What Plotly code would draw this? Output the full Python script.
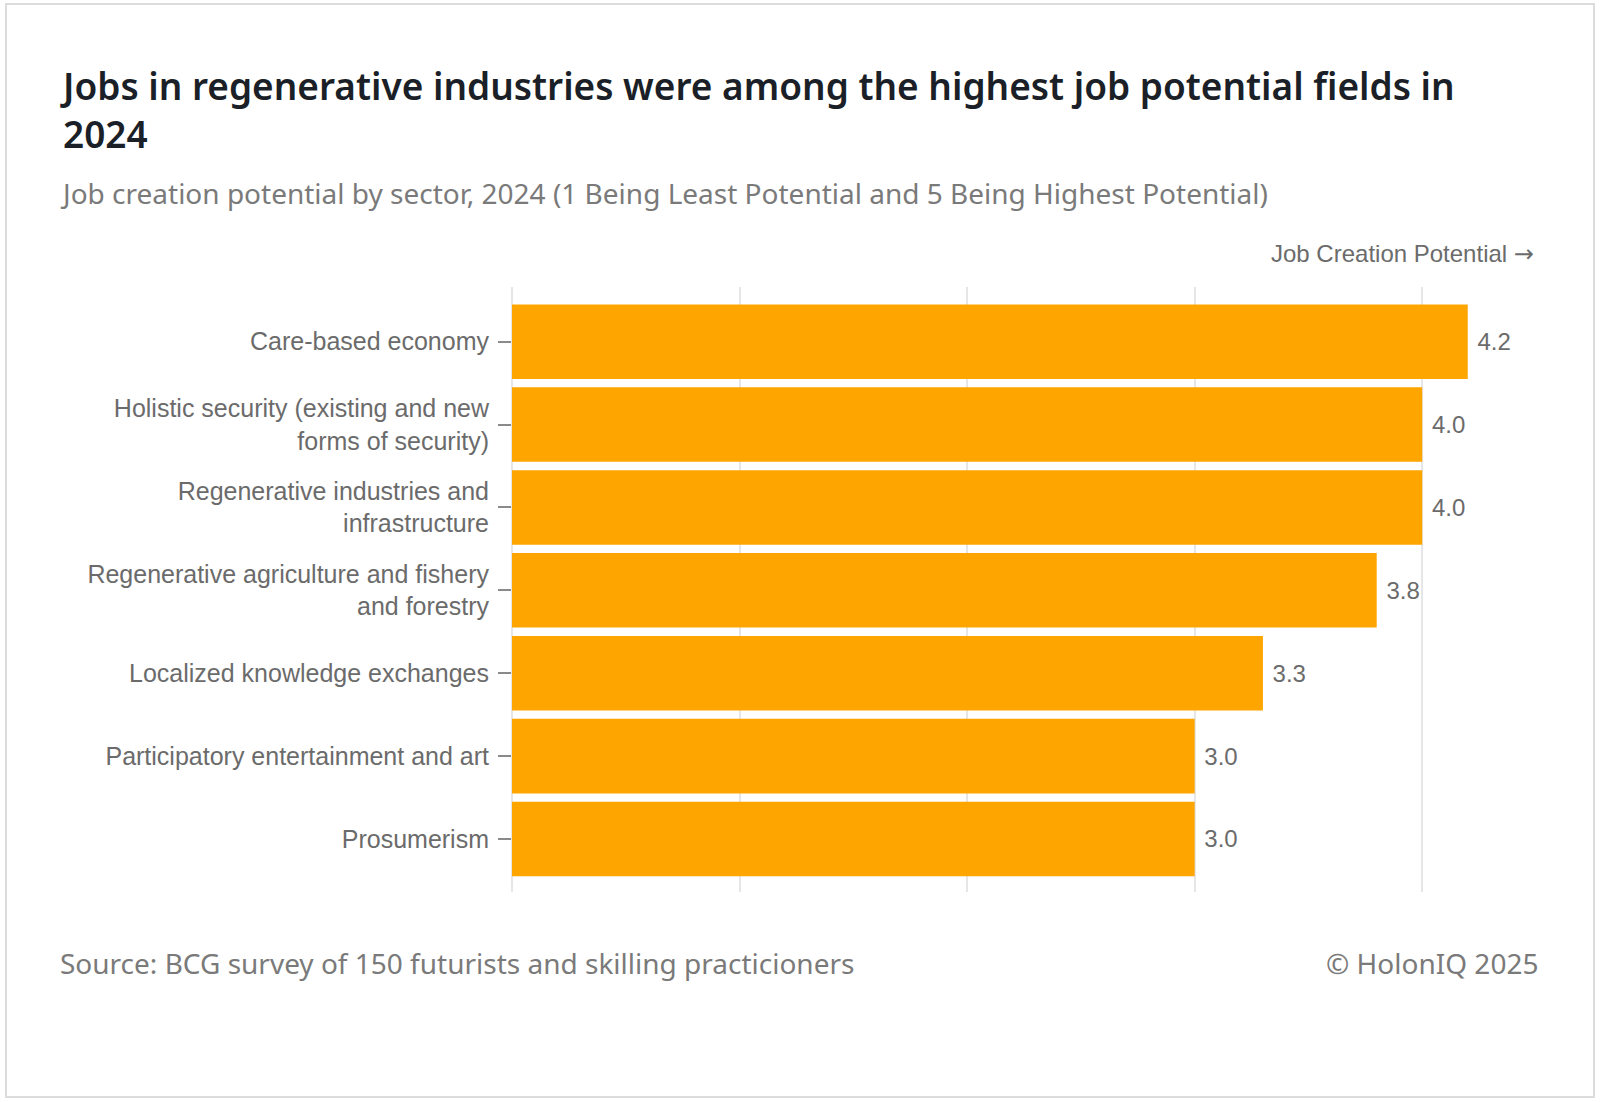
import plotly.graph_objects as go

# ---- data ----
sectors = [
    "Care-based economy",
    "Holistic security (existing and new<br>forms of security)",
    "Regenerative industries and<br>infrastructure",
    "Regenerative agriculture and fishery<br>and forestry",
    "Localized knowledge exchanges",
    "Participatory entertainment and art",
    "Prosumerism",
]
potential = [4.2, 4.0, 4.0, 3.8, 3.3, 3.0, 3.0]

title_text = ("Jobs in regenerative industries were among the highest job potential fields in<br>2024")
subtitle_text = ("Job creation potential by sector, 2024 (1 Being Least Potential and 5 Being Highest Potential)")
source_text = "Source: BCG survey of 150 futurists and skilling practicioners"
credit_text = "© HolonIQ 2025"
axis_note = "Job Creation Potential <span style=\"font-family:'DejaVu Sans'\">→</span>"

W, H = 1600, 1102
L, R, T, B = 512, 1536, 287, 892  # plot area in pixels


def px(x):
    return (x - L) / (R - L)


def py(y):
    return (B - y) / (B - T)


fig = go.Figure(
    go.Bar(
        x=potential,
        y=sectors,
        orientation="h",
        marker=dict(color="#FFA500", line=dict(width=0)),
        text=potential,
        texttemplate=" %{x:.1f}",
        textposition="outside",
        textfont=dict(family="Liberation Sans, Arial", size=24, color="#6b6b6b"),
        cliponaxis=False,
        hoverinfo="skip",
    )
)

fig.update_layout(
    width=W,
    height=H,
    paper_bgcolor="white",
    plot_bgcolor="white",
    margin=dict(l=L, r=W - R, t=T, b=H - B, pad=0),
    bargap=0.1,
    showlegend=False,
    font=dict(family="Liberation Sans, Arial", color="#6b6b6b"),
)

fig.update_xaxes(
    range=[0, 4.5],
    showticklabels=False,
    showgrid=True,
    gridcolor="#e6e6e6",
    gridwidth=2,
    zeroline=True,
    zerolinecolor="#e6e6e6",
    zerolinewidth=2,
    dtick=1,
    showline=False,
    fixedrange=True,
)

fig.update_yaxes(
    categoryorder="array",
    categoryarray=sectors,
    range=[6.64, -0.66],
    ticks="outside",
    ticklen=13,
    tickwidth=2,
    tickcolor="#8a8a8a",
    tickfont=dict(family="Liberation Sans, Arial", size=25, color="#6b6b6b"),
    ticklabelstandoff=4,
    showgrid=False,
    showline=False,
    fixedrange=True,
)

annotations = [
    dict(text=title_text, x=px(58), y=py(109), xanchor="left", yanchor="middle",
         align="left",
         font=dict(family="Noto Sans", size=37, color="#1b1f27", weight=600)),
    dict(text=subtitle_text, x=px(58), y=py(193), xanchor="left", yanchor="middle",
         font=dict(family="Noto Sans", size=28, color="#7a7a7a")),
    dict(text=axis_note, x=px(1536), y=py(254), xanchor="right", yanchor="middle",
         font=dict(family="Liberation Sans, Arial", size=24, color="#6b6b6b")),
    dict(text=source_text, x=px(58), y=py(963), xanchor="left", yanchor="middle",
         font=dict(family="Noto Sans", size=28, color="#7a7a7a")),
    dict(text=credit_text, x=px(1540), y=py(963), xanchor="right", yanchor="middle",
         font=dict(family="Noto Sans", size=28, color="#7a7a7a")),
]
for a in annotations:
    a.update(xref="paper", yref="paper", showarrow=False)
fig.update_layout(annotations=annotations)

fig.add_shape(type="rect", xref="paper", yref="paper",
              x0=px(6), x1=px(1594), y0=py(1097), y1=py(4),
              line=dict(color="#dcdcdc", width=2), fillcolor="rgba(0,0,0,0)",
              layer="below")

fig.write_html("out.html", config={"displayModeBar": False},
               post_script="document.body.style.margin='0px';")
